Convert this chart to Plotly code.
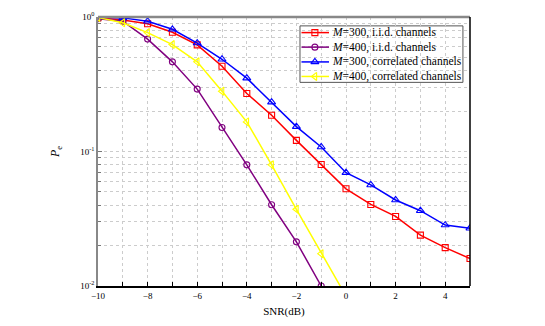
import plotly.graph_objects as go

snr = [-10, -9, -8, -7, -6, -5, -4, -3, -2, -1, 0, 1, 2, 3, 4, 5]

pe_m300_iid = [0.99, 0.95, 0.89, 0.77, 0.62, 0.43, 0.27, 0.186, 0.121, 0.080,
               0.0528, 0.0404, 0.0329, 0.0239, 0.0193, 0.016]
pe_m400_iid = [0.97, 0.93, 0.685, 0.464, 0.291, 0.151, 0.0796, 0.0402, 0.0213, 0.0100,
               0.0045]
pe_m300_corr = [1.0, 0.985, 0.93, 0.81, 0.64, 0.485, 0.351, 0.233, 0.153, 0.108,
                0.0696, 0.0564, 0.0436, 0.0363, 0.0284, 0.0269]
pe_m400_corr = [0.99, 0.905, 0.766, 0.624, 0.464, 0.281, 0.166, 0.0796, 0.0372, 0.0174,
                0.0084]

labels = ["<i>M</i>=300, i.i.d. channels", "<i>M</i>=400, i.i.d. channels",
          "<i>M</i>=300, correlated channels", "<i>M</i>=400, correlated channels"]
values = [pe_m300_iid, pe_m400_iid, pe_m300_corr, pe_m400_corr]
colors = ["#ff0000", "#800080", "#0000ff", "#ffff00"]
symbols = ["square-open", "circle-open", "triangle-up-open", "triangle-left-open"]
msizes = [6, 6, 7, 7]

y_tickvals = [0.01, 0.1, 1]
y_ticktext = ["10<sup>-2</sup>", "10<sup>-1</sup>", "10<sup>0</sup>"]

SERIF = "Liberation Serif, Times New Roman, serif"

fig = go.Figure()
for name, vals, col, sym, ms in zip(labels, values, colors, symbols, msizes):
    fig.add_trace(go.Scatter(
        x=snr[:len(vals)], y=vals, name=name, mode="lines+markers",
        line=dict(color=col, width=1.5),
        marker=dict(symbol=sym, size=ms, color=col, line=dict(width=1.1, color=col)),
        showlegend=False,
    ))

# hand-drawn legend (compact rows like the original) on an overlay axis 0..1
lg_x0, lg_x1, lg_y0, lg_y1 = 0.543, 0.981, 0.757, 0.967
row_y = [0.942, 0.888, 0.833, 0.779]
fig.add_shape(type="rect", xref="paper", yref="paper", x0=lg_x0, x1=lg_x1, y0=lg_y0, y1=lg_y1,
              fillcolor="white", line=dict(color="#555555", width=1), layer="between")
for name, col, sym, ms, ry in zip(labels, colors, symbols, msizes, row_y):
    fig.add_trace(go.Scatter(
        x=[0.547, 0.583, 0.621], y=[ry, ry, ry], xaxis="x2", yaxis="y2",
        mode="lines", line=dict(color=col, width=1.5), showlegend=False, hoverinfo="skip"))
    fig.add_trace(go.Scatter(
        x=[0.583], y=[ry], xaxis="x2", yaxis="y2", mode="markers",
        marker=dict(symbol=sym, size=ms, color=col, line=dict(width=1.1, color=col)),
        showlegend=False, hoverinfo="skip"))
    fig.add_annotation(xref="paper", yref="paper", x=0.624, y=ry, text=name,
                       showarrow=False, xanchor="left", yanchor="middle",
                       font=dict(family=SERIF, size=11.5, color="black"))

fig.update_layout(
    width=545, height=326,
    margin=dict(l=98, r=75, t=10, b=40),
    paper_bgcolor="white", plot_bgcolor="white",
    font=dict(family=SERIF, size=10, color="black"),
    showlegend=False,
    xaxis=dict(
        range=[-10, 5], tick0=-10, dtick=2,
        ticks="inside", ticklen=4, tickcolor="black",
        minor=dict(dtick=1, ticks="inside", ticklen=4, tickcolor="black",
                   showgrid=True, gridcolor="#cccccc", griddash="dot"),
        showline=True, linecolor="black", linewidth=1.5,
        showgrid=True, gridcolor="#cccccc", griddash="dot", gridwidth=1,
        zeroline=False, tickfont=dict(size=9),
        title=dict(text="SNR(dB)", font=dict(size=11), standoff=8),
    ),
    yaxis=dict(
        type="log", range=[-2, 0], tickvals=y_tickvals, ticktext=y_ticktext,
        ticks="inside", ticklen=4, tickcolor="#777777",
        minor=dict(dtick="D1", ticks="inside", ticklen=3, tickcolor="#777777",
                   showgrid=True, gridcolor="#cccccc", griddash="dot"),
        showline=True, linecolor="#888888", linewidth=1.5,
        showgrid=True, gridcolor="#cccccc", griddash="dot", gridwidth=1,
        zeroline=False, tickfont=dict(size=9),
        title=dict(text="<i>P</i><sub>e</sub>", font=dict(size=12), standoff=18),
    ),
    xaxis2=dict(overlaying="x", range=[0, 1], visible=False, fixedrange=True),
    yaxis2=dict(overlaying="y", range=[0, 1], visible=False, fixedrange=True),
)

# frame: grey top, black right
fig.add_shape(type="line", xref="paper", yref="paper", x0=0, x1=1, y0=1, y1=1,
              line=dict(color="#888888", width=2.5))
fig.add_shape(type="line", xref="paper", yref="paper", x0=1, x1=1, y0=0, y1=1,
              line=dict(color="black", width=1.5))

# drop the default 8px body margin so the figure sits at the page corner
fig.write_html("out.html", config={"displayModeBar": False},
               post_script="document.body.style.margin='0';")
